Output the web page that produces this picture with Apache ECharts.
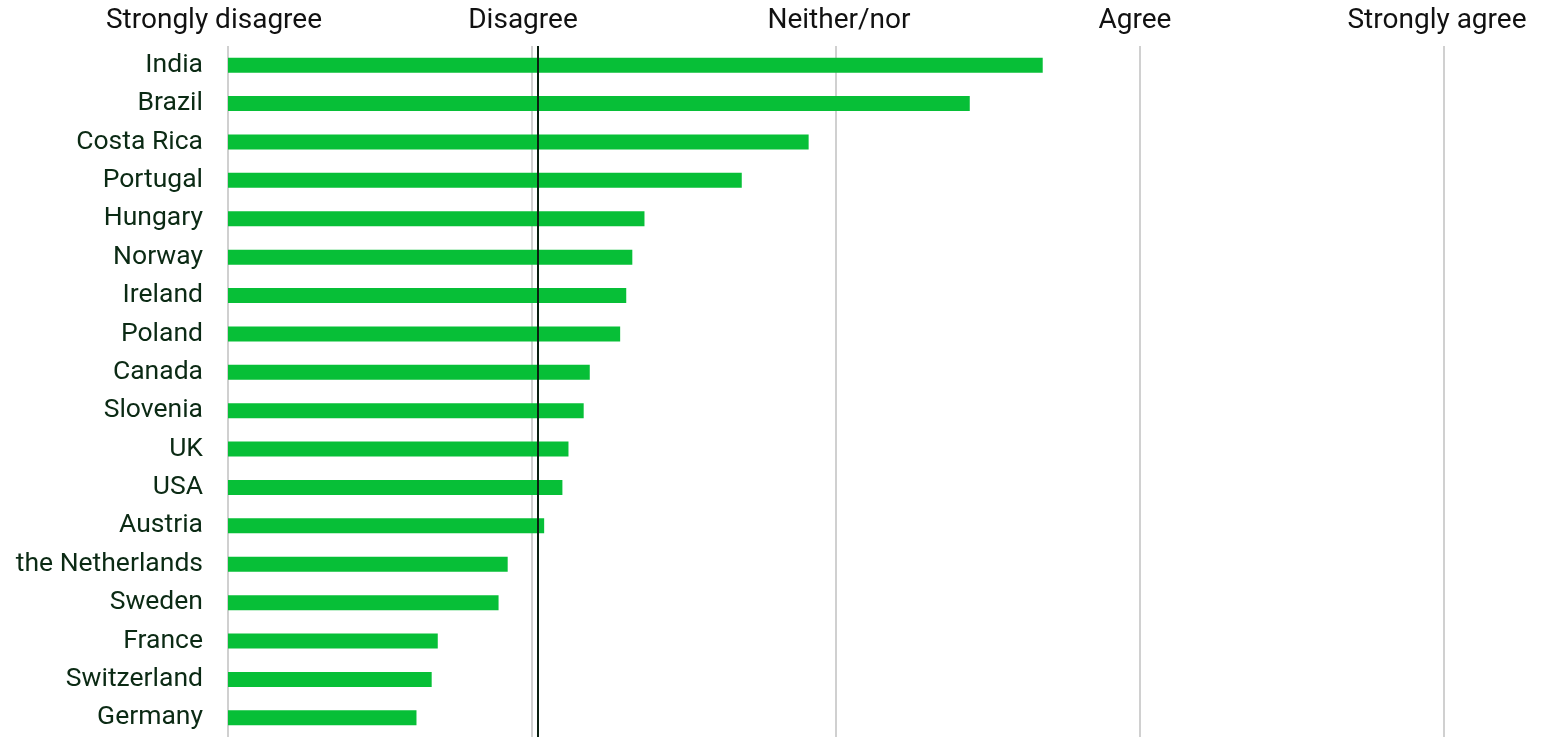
<!DOCTYPE html>
<html>
<head>
<meta charset="utf-8">
<script src="https://cdn.jsdelivr.net/npm/echarts@6/dist/echarts.min.js"></script>
<style>
html,body{margin:0;padding:0;background:#fff;}
#chart{width:1547px;height:737px;}
</style>
</head>
<body>
<div id="chart"></div>
<script>
const countries = ['India','Brazil','Costa Rica','Portugal','Hungary','Norway','Ireland','Poland','Canada','Slovenia','UK','USA','Austria','the Netherlands','Sweden','France','Switzerland','Germany'];
const scores = [3.68,3.44,2.91,2.69,2.37,2.33,2.31,2.29,2.19,2.17,2.12,2.10,2.04,1.92,1.89,1.69,1.67,1.62];
const scaleLabels = ['Strongly disagree','Disagree','Neither/nor','Agree','Strongly agree'];
const meanScore = 2.02;

const baseText = {color: '#111', fontFamily: 'Roboto', fontSize: 28};
const chart = echarts.init(document.getElementById('chart'));
chart.setOption({
  animation: false,
  grid: {left: 228, right: 103, top: 46, bottom: 0, containLabel: false},
  xAxis: {
    type: 'value', position: 'top', min: 1, max: 5, interval: 1,
    axisLine: {show: false}, axisTick: {show: false},
    axisLabel: {
      color: '#111', fontFamily: 'Roboto', fontSize: 28, margin: 11,
      formatter: v => {
        const i = Math.round(v) - 1;
        return scaleLabels[i] ? '{l' + i + '|' + scaleLabels[i] + '}' : '';
      },
      rich: {
        l0: Object.assign({padding: [0, 28, 0, 0]}, baseText),
        l1: Object.assign({padding: [0, 18, 0, 0]}, baseText),
        l2: Object.assign({padding: [0, 0, 0, 6]}, baseText),
        l3: Object.assign({padding: [0, 10, 0, 0]}, baseText),
        l4: Object.assign({padding: [0, 14, 0, 0]}, baseText)
      }
    },
    splitLine: {show: true, lineStyle: {color: '#d0d0d0', width: 2}}
  },
  yAxis: {
    type: 'category', data: countries, inverse: true,
    axisLine: {show: false}, axisTick: {show: false},
    axisLabel: {color: '#0b2a14', fontFamily: 'Roboto', fontSize: 26.5, margin: 25}
  },
  series: [{
    type: 'bar', data: scores, barWidth: 15,
    itemStyle: {color: '#07bf37'},
    markLine: {
      silent: true, symbol: 'none', label: {show: false},
      lineStyle: {color: '#0a1f10', width: 2, type: 'solid'},
      data: [{xAxis: meanScore}]
    }
  }]
});
</script>
</body>
</html>
